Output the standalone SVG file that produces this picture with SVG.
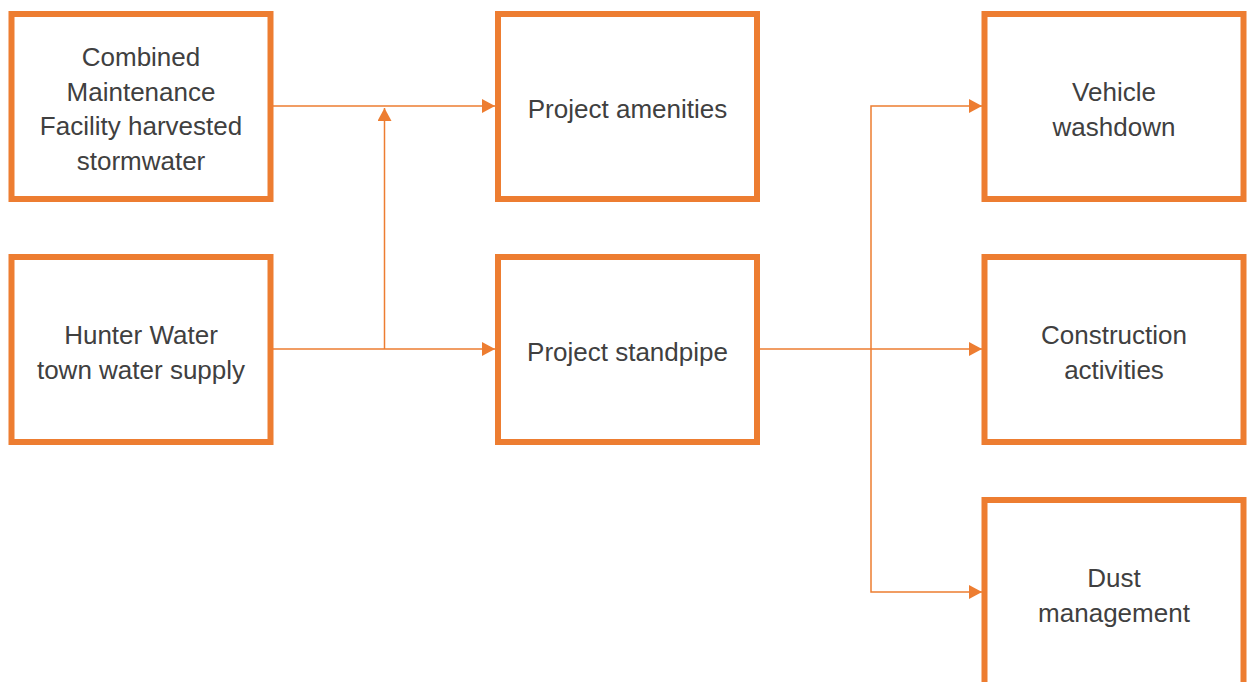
<svg xmlns="http://www.w3.org/2000/svg" width="1250" height="682" viewBox="0 0 1250 682">
<defs>
<style>
.box{fill:#FFFFFF;stroke:#ED7D31;stroke-width:6}
.lbl{font-family:"Liberation Sans",Arial,sans-serif;font-size:26px;fill:#404040;text-anchor:middle}
.con{fill:none;stroke:#ED7D31;stroke-width:1.5}
</style>
<marker id="arr" viewBox="0 0 13 14" refX="13" refY="7" markerWidth="13" markerHeight="14" markerUnits="userSpaceOnUse" orient="auto">
<path d="M0,0 L13,7 L0,14 Z" fill="#ED7D31"/>
</marker>
</defs>
<rect width="1250" height="682" fill="#FFFFFF"/>
<g id="connectors">
<path class="con" d="M273,106 L495,106" marker-end="url(#arr)"/>
<path class="con" d="M273,349 L495,349" marker-end="url(#arr)"/>
<path class="con" d="M384.5,349 L384.5,108" marker-end="url(#arr)"/>
<path class="con" d="M760,349 L982,349" marker-end="url(#arr)"/>
<path class="con" d="M871,349 L871,106 L982,106" marker-end="url(#arr)"/>
<path class="con" d="M871,349 L871,592 L982,592" marker-end="url(#arr)"/>
</g>
<g id="node-cmf">
<rect class="box" x="11.5" y="14" width="259" height="185"/>
<text class="lbl" x="141" y="66">Combined</text>
<text class="lbl" x="141" y="100.5">Maintenance</text>
<text class="lbl" x="141" y="135">Facility harvested</text>
<text class="lbl" x="141" y="169.5">stormwater</text>
</g>
<g id="node-hunter">
<rect class="box" x="11.5" y="257" width="259" height="185"/>
<text class="lbl" x="141" y="344">Hunter Water</text>
<text class="lbl" x="141" y="379">town water supply</text>
</g>
<g id="node-amenities">
<rect class="box" x="498" y="14" width="259" height="185"/>
<text class="lbl" x="627.5" y="118">Project amenities</text>
</g>
<g id="node-standpipe">
<rect class="box" x="498" y="257" width="259" height="185"/>
<text class="lbl" x="627.5" y="361">Project standpipe</text>
</g>
<g id="node-vehicle">
<rect class="box" x="984.5" y="14" width="259" height="185"/>
<text class="lbl" x="1114" y="101">Vehicle</text>
<text class="lbl" x="1114" y="136">washdown</text>
</g>
<g id="node-construction">
<rect class="box" x="984.5" y="257" width="259" height="185"/>
<text class="lbl" x="1114" y="344">Construction</text>
<text class="lbl" x="1114" y="379">activities</text>
</g>
<g id="node-dust">
<rect class="box" x="984.5" y="500" width="259" height="185"/>
<text class="lbl" x="1114" y="587">Dust</text>
<text class="lbl" x="1114" y="622">management</text>
</g>
</svg>
